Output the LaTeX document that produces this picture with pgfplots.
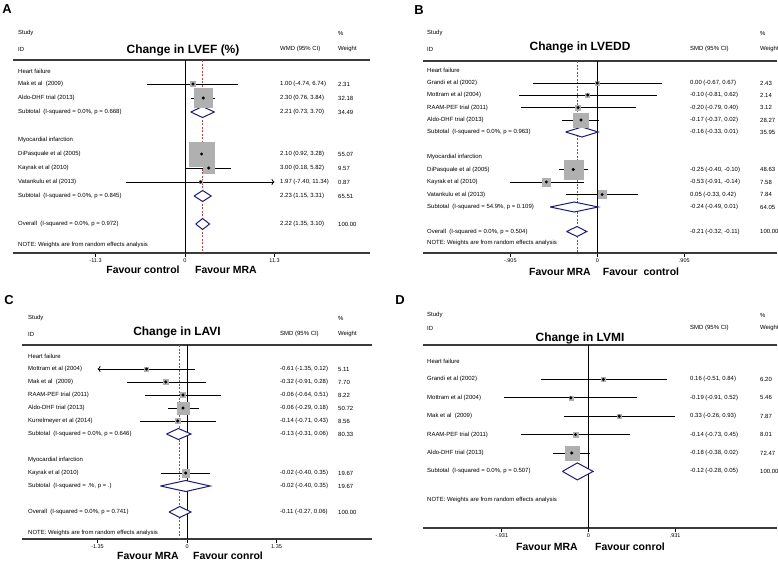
\documentclass[border=0pt]{standalone}
\usepackage{pgfplots}
\pgfplotsset{compat=1.18}
\usepackage{pgfplotstable}
\usetikzlibrary{arrows.meta}
\usepackage{fontspec}
\setmainfont{Liberation Sans}
\definecolor{linegray}{HTML}{3A3A3A}
\definecolor{sqgray}{HTML}{B0B0B0}
\definecolor{dashred}{HTML}{B04545}
\definecolor{dnavy}{HTML}{1C1C78}
\newcommand\sm{\fontsize{6}{7}\selectfont}
\newcommand\ttl{\fontsize{12}{14}\selectfont\bfseries}
\newcommand\fav{\fontsize{10.5}{12}\selectfont\bfseries}
\newcommand\lett{\fontsize{13}{15}\selectfont\bfseries}
\newcommand\tx[3]{\node[anchor=west,inner sep=0pt,font=\sm] at (#1bp,-#2bp) {#3};}
\newcommand\ctr[4]{\node[anchor=center,inner sep=0pt,font=#1] at (#2bp,-#3bp) {#4};}
\pgfplotsset{
  forest/.style={anchor=south west, scale only axis, clip=false,
    axis x line*=bottom, axis y line=none,
    x axis line style={draw=linegray, line width=1.4bp, -},
    tick align=outside, major tick length=3.5bp,
    xtick style={draw=black, line width=0.8bp},
    xticklabel style={font=\fontsize{5.5}{6}\selectfont, inner sep=2bp},
    /pgf/number format/assume math mode=true, ytick=\empty},
  sq/.style={scatter, only marks, mark=square*,
    scatter/use mapped color={draw=sqgray,fill=sqgray},
    visualization depends on={#1*sqrt(\thisrow{w}) \as \ms},
    scatter/@pre marker code/.append style={/tikz/mark size=\ms}},
  ci/.style={only marks, mark=*, mark size=1.3bp, black, mark options={fill=black},
    error bars/.cd, x dir=both, x explicit, error mark=none,
    error bar style={line width=0.8bp, black}},
  dia/.style={dnavy, line width=1bp, fill=white, line join=miter},
}
% Panel A: Change in LVEF (%), WMD
\pgfplotstableread{
y est lo hi w
-84 1.00 -4.74 6.74 2.31
-98 2.30 0.76 3.84 32.18
-154 2.10 0.92 3.28 55.07
-168 3.00 0.18 5.82 9.57
-182 1.97 -7.40 11.34 0.87
}\studA
% Panel B: Change in LVEDD, SMD
\pgfplotstableread{
y est lo hi w
-83 0.00 -0.67 0.67 2.43
-95 -0.10 -0.81 0.62 2.14
-107.5 -0.20 -0.79 0.40 3.12
-120 -0.17 -0.37 0.02 28.27
-169.5 -0.25 -0.40 -0.10 48.63
-182 -0.53 -0.91 -0.14 7.58
-194.5 0.05 -0.33 0.42 7.84
}\studB
% Panel C: Change in LAVI, SMD
\pgfplotstableread{
y est lo hi w
-369 -0.61 -1.35 0.12 5.11
-382 -0.32 -0.91 0.28 7.70
-395 -0.06 -0.64 0.51 8.22
-408 -0.06 -0.29 0.18 50.72
-421 -0.14 -0.71 0.43 8.56
-473 -0.02 -0.40 0.35 19.67
}\studC
% Panel D: Change in LVMI, SMD
\pgfplotstableread{
y est lo hi w
-379.4 0.16 -0.51 0.84 6.20
-397.8 -0.19 -0.91 0.52 5.46
-416.2 0.33 -0.26 0.93 7.87
-434.6 -0.14 -0.73 0.45 8.01
-453 -0.18 -0.38 0.02 72.47
}\studD
\begin{document}
\begin{tikzpicture}
% ---------------- Panel A ----------------
\begin{axis}[forest, at={(13bp,-253bp)}, width=357bp, height=193bp,
  xmin=-21.72, xmax=23.36, ymin=-253, ymax=-60,
  xtick={-11.3,0,11.3}, xticklabels={-11.3,0,11.3}]
\draw[linegray, line width=1.4bp] (rel axis cs:0,1) -- (rel axis cs:1,1);
\addplot[black, line width=0.8bp] coordinates {(0,-60) (0,-253)};
\addplot[dashred, line width=0.8bp, dash pattern=on 2bp off 1.5bp] coordinates {(2.22,-60) (2.22,-253)};
\addplot[sq=1.65] table[x=est,y=y] {\studA};
\addplot[ci] table[x=est,y=y,
  x error plus expr={min(\thisrow{hi},11.3)-\thisrow{est}},
  x error minus expr={\thisrow{est}-\thisrow{lo}}] {\studA};
\addplot[black, line width=0.8bp, -{To[length=3bp,width=6bp]}] coordinates {(-7.40,-182) (11.3,-182)};
\addplot[dia] coordinates {(0.73,-112) (2.21,-106.5) (3.70,-112) (2.21,-117.5) (0.73,-112)};
\addplot[dia] coordinates {(1.15,-196) (2.23,-190.5) (3.31,-196) (2.23,-201.5) (1.15,-196)};
\addplot[dia] coordinates {(1.35,-224) (2.22,-218.5) (3.10,-224) (2.22,-229.5) (1.35,-224)};
\end{axis}
% ---------------- Panel B ----------------
\begin{axis}[forest, at={(423bp,-253bp)}, width=354bp, height=192bp,
  xmin=-1.8137, xmax=1.870, ymin=-253, ymax=-61,
  xtick={-0.905,0,0.905}, xticklabels={-.905,0,.905}]
\draw[linegray, line width=1.4bp] (rel axis cs:0,1) -- (rel axis cs:1,1);
\addplot[black, line width=0.8bp] coordinates {(0,-61) (0,-253)};
\addplot[dashred, line width=0.8bp, dash pattern=on 2bp off 1.5bp] coordinates {(-0.21,-61) (-0.21,-253)};
\addplot[sq=1.375] table[x=est,y=y] {\studB};
\addplot[ci] table[x=est,y=y,
  x error plus expr={\thisrow{hi}-\thisrow{est}},
  x error minus expr={\thisrow{est}-\thisrow{lo}}] {\studB};
\addplot[dia] coordinates {(-0.33,-132) (-0.16,-127) (0.01,-132) (-0.16,-137) (-0.33,-132)};
\addplot[dia] coordinates {(-0.49,-207) (-0.24,-202) (0.01,-207) (-0.24,-212) (-0.49,-207)};
\addplot[dia] coordinates {(-0.32,-231.5) (-0.21,-226.5) (-0.11,-231.5) (-0.21,-236.5) (-0.32,-231.5)};
\end{axis}
% ---------------- Panel C ----------------
\begin{axis}[forest, at={(22bp,-539bp)}, width=350bp, height=194bp,
  xmin=-2.489, xmax=2.790, ymin=-539, ymax=-345,
  xtick={-1.35,0,1.35}, xticklabels={-1.35,0,1.35}]
\draw[linegray, line width=1.4bp] (rel axis cs:0,1) -- (rel axis cs:1,1);
\addplot[black, line width=0.8bp] coordinates {(0,-345) (0,-539)};
\addplot[dashred, line width=0.8bp, dash pattern=on 2bp off 1.5bp] coordinates {(-0.11,-345) (-0.11,-539)};
\addplot[sq=0.85] table[x=est,y=y] {\studC};
\addplot[ci] table[x=est,y=y,
  x error plus expr={\thisrow{hi}-\thisrow{est}},
  x error minus expr={\thisrow{est}-max(\thisrow{lo},-1.35)}] {\studC};
\addplot[black, line width=0.8bp, -{To[length=3bp,width=6bp]}] coordinates {(0.12,-369) (-1.35,-369)};
\addplot[dia] coordinates {(-0.31,-434) (-0.13,-428.5) (0.06,-434) (-0.13,-439.5) (-0.31,-434)};
\addplot[dia] coordinates {(-0.40,-486) (-0.02,-480.5) (0.35,-486) (-0.02,-491.5) (-0.40,-486)};
\addplot[dia] coordinates {(-0.27,-512) (-0.11,-506.5) (0.06,-512) (-0.11,-517.5) (-0.27,-512)};
\end{axis}
% ---------------- Panel D ----------------
\begin{axis}[forest, at={(423bp,-528bp)}, width=354bp, height=183bp,
  xmin=-1.778, xmax=2.025, ymin=-528, ymax=-345,
  xtick={-0.931,0,0.931}, xticklabels={-.931,0,.931}]
\draw[linegray, line width=1.4bp] (rel axis cs:0,1) -- (rel axis cs:1,1);
\addplot[black, line width=0.8bp] coordinates {(0,-345) (0,-528)};
\addplot[sq=0.83] table[x=est,y=y] {\studD};
\addplot[ci] table[x=est,y=y,
  x error plus expr={\thisrow{hi}-\thisrow{est}},
  x error minus expr={\thisrow{est}-\thisrow{lo}}] {\studD};
\addplot[dia] coordinates {(-0.28,-471.4) (-0.12,-462.9) (0.05,-471.4) (-0.12,-479.9) (-0.28,-471.4)};
\end{axis}
% ---------------- Texts ----------------
\ctr{\lett}{7}{9}{A}
\ctr{\lett}{419}{10}{B}
\ctr{\lett}{9}{300}{C}
\ctr{\lett}{400}{300}{D}
% A
\tx{18}{33}{Study}\tx{18}{49}{ID}
\ctr{\ttl}{183}{50}{Change in LVEF (\%)}
\tx{280}{49}{WMD (95\% CI)}\tx{338}{33}{\%}\tx{338}{49}{Weight}
\tx{18}{71}{Heart failure}
\tx{18}{84}{Mak et al\ \ (2009)}\tx{280}{84}{1.00 (-4.74, 6.74)}\tx{338}{84}{2.31}
\tx{18}{98}{Aldo-DHF trial (2013)}\tx{280}{98}{2.30 (0.76, 3.84)}\tx{338}{98}{32.18}
\tx{18}{112}{Subtotal\ \ (I-squared = 0.0\%, p = 0.668)}\tx{280}{112}{2.21 (0.73, 3.70)}\tx{338}{112}{34.49}
\tx{18}{140}{Myocardial infarction}
\tx{18}{154}{DiPasquale et al (2005)}\tx{280}{154}{2.10 (0.92, 3.28)}\tx{338}{154}{55.07}
\tx{18}{168}{Kayrak et al (2010)}\tx{280}{168}{3.00 (0.18, 5.82)}\tx{338}{168}{9.57}
\tx{18}{182}{Vatankulu et al (2013)}\tx{280}{182}{1.97 (-7.40, 11.34)}\tx{338}{182}{0.87}
\tx{18}{196}{Subtotal\ \ (I-squared = 0.0\%, p = 0.845)}\tx{280}{196}{2.23 (1.15, 3.31)}\tx{338}{196}{65.51}
\tx{18}{224}{Overall\ \ (I-squared = 0.0\%, p = 0.972)}\tx{280}{224}{2.22 (1.35, 3.10)}\tx{338}{224}{100.00}
\tx{18}{245}{NOTE: Weights are from random effects analysis}
\ctr{\fav}{143}{270}{Favour control}\ctr{\fav}{226}{270}{Favour MRA}
% B
\tx{427}{33}{Study}\tx{427}{49}{ID}
\ctr{\ttl}{580}{47}{Change in LVEDD}
\tx{690}{49}{SMD (95\% CI)}\tx{760}{33}{\%}\tx{760}{49}{Weight}
\tx{427}{70.5}{Heart failure}
\tx{427}{83}{Grandi et al (2002)}\tx{690}{83}{0.00 (-0.67, 0.67)}\tx{760}{83}{2.43}
\tx{427}{95}{Mottram et al (2004)}\tx{690}{95}{-0.10 (-0.81, 0.62)}\tx{760}{95}{2.14}
\tx{427}{107.5}{RAAM-PEF trial (2011)}\tx{690}{107.5}{-0.20 (-0.79, 0.40)}\tx{760}{107.5}{3.12}
\tx{427}{120}{Aldo-DHF trial (2013)}\tx{690}{120}{-0.17 (-0.37, 0.02)}\tx{760}{120}{28.27}
\tx{427}{132}{Subtotal\ \ (I-squared = 0.0\%, p = 0.963)}\tx{690}{132}{-0.16 (-0.33, 0.01)}\tx{760}{132}{35.95}
\tx{427}{157}{Myocardial infarction}
\tx{427}{169.5}{DiPasquale et al (2005)}\tx{690}{169.5}{-0.25 (-0.40, -0.10)}\tx{760}{169.5}{48.63}
\tx{427}{182}{Kayrak et al (2010)}\tx{690}{182}{-0.53 (-0.91, -0.14)}\tx{760}{182}{7.58}
\tx{427}{194.5}{Vatankulu et al (2013)}\tx{690}{194.5}{0.05 (-0.33, 0.42)}\tx{760}{194.5}{7.84}
\tx{427}{207}{Subtotal\ \ (I-squared = 54.9\%, p = 0.109)}\tx{690}{207}{-0.24 (-0.49, 0.01)}\tx{760}{207}{64.05}
\tx{427}{231.5}{Overall\ \ (I-squared = 0.0\%, p = 0.504)}\tx{690}{231.5}{-0.21 (-0.32, -0.11)}\tx{760}{231.5}{100.00}
\tx{427}{243}{NOTE: Weights are from random effects analysis}
\ctr{\fav}{560}{272}{Favour MRA}\ctr{\fav}{641}{272}{Favour\ \ control}
% C
\tx{28}{318}{Study}\tx{28}{334}{ID}
\ctr{\ttl}{177}{332}{Change in LAVI}
\tx{280}{334}{SMD (95\% CI)}\tx{338}{318}{\%}\tx{338}{334}{Weight}
\tx{28}{356}{Heart failure}
\tx{28}{369}{Mottram et al (2004)}\tx{280}{369}{-0.61 (-1.35, 0.12)}\tx{338}{369}{5.11}
\tx{28}{382}{Mak et al\ \ (2009)}\tx{280}{382}{-0.32 (-0.91, 0.28)}\tx{338}{382}{7.70}
\tx{28}{395}{RAAM-PEF trial (2011)}\tx{280}{395}{-0.06 (-0.64, 0.51)}\tx{338}{395}{8.22}
\tx{28}{408}{Aldo-DHF trial (2013)}\tx{280}{408}{-0.06 (-0.29, 0.18)}\tx{338}{408}{50.72}
\tx{28}{421}{Kurrelmeyer et al (2014)}\tx{280}{421}{-0.14 (-0.71, 0.43)}\tx{338}{421}{8.56}
\tx{28}{434}{Subtotal\ \ (I-squared = 0.0\%, p = 0.646)}\tx{280}{434}{-0.13 (-0.31, 0.06)}\tx{338}{434}{80.33}
\tx{28}{460}{Myocardial infarction}
\tx{28}{473}{Kayrak et al (2010)}\tx{280}{473}{-0.02 (-0.40, 0.35)}\tx{338}{473}{19.67}
\tx{28}{486}{Subtotal\ \ (I-squared = .\%, p = .)}\tx{280}{486}{-0.02 (-0.40, 0.35)}\tx{338}{486}{19.67}
\tx{28}{512}{Overall\ \ (I-squared = 0.0\%, p = 0.741)}\tx{280}{512}{-0.11 (-0.27, 0.06)}\tx{338}{512}{100.00}
\tx{28}{533}{NOTE: Weights are from random effects analysis}
\ctr{\fav}{148}{556}{Favour MRA}\ctr{\fav}{228}{556}{Favour conrol}
% D
\tx{427}{315}{Study}\tx{427}{328}{ID}
\ctr{\ttl}{580}{338}{Change in LVMI}
\tx{690}{328}{SMD (95\% CI)}\tx{760}{315}{\%}\tx{760}{328}{Weight}
\tx{427}{361}{Heart failure}
\tx{427}{379.4}{Grandi et al (2002)}\tx{690}{379.4}{0.16 (-0.51, 0.84)}\tx{760}{379.4}{6.20}
\tx{427}{397.8}{Mottram et al (2004)}\tx{690}{397.8}{-0.19 (-0.91, 0.52)}\tx{760}{397.8}{5.46}
\tx{427}{416.2}{Mak et al\ \ (2009)}\tx{690}{416.2}{0.33 (-0.26, 0.93)}\tx{760}{416.2}{7.87}
\tx{427}{434.6}{RAAM-PEF trial (2011)}\tx{690}{434.6}{-0.14 (-0.73, 0.45)}\tx{760}{434.6}{8.01}
\tx{427}{453}{Aldo-DHF trial (2013)}\tx{690}{453}{-0.18 (-0.38, 0.02)}\tx{760}{453}{72.47}
\tx{427}{471.4}{Subtotal\ \ (I-squared = 0.0\%, p = 0.507)}\tx{690}{471.4}{-0.12 (-0.28, 0.05)}\tx{760}{471.4}{100.00}
\tx{427}{500}{NOTE: Weights are from random effects analysis}
\ctr{\fav}{547}{547}{Favour MRA}\ctr{\fav}{630}{547}{Favour conrol}
\pgfresetboundingbox
\useasboundingbox (0,-562bp) rectangle (778bp,0);
\end{tikzpicture}
\end{document}
